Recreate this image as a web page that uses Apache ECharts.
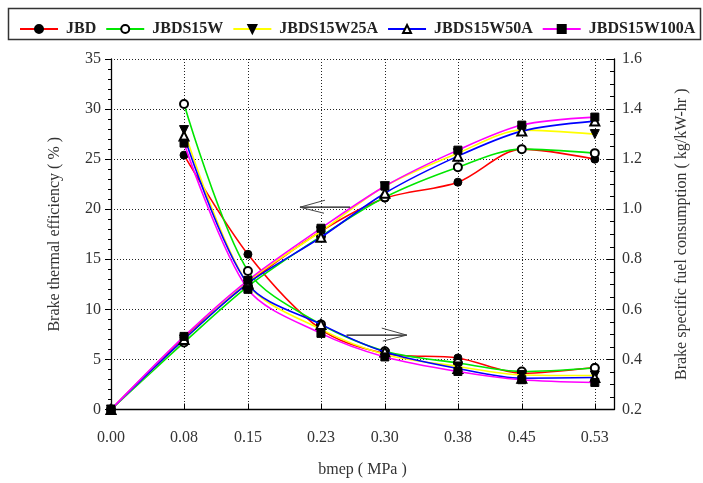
<!DOCTYPE html>
<html>
<head>
<meta charset="utf-8">
<script src="https://cdn.jsdelivr.net/npm/echarts@6/dist/echarts.min.js"></script>
<style>html,body{margin:0;padding:0;background:#fff}#c{width:703px;height:483px}</style>
</head>
<body>
<div id="c"></div>
<script>
// ---- data ----
const xValues = [0, 0.08, 0.15, 0.23, 0.30, 0.38, 0.45, 0.53];
const seriesNames = ['JBD', 'JBDS15W', 'JBDS15W25A', 'JBDS15W50A', 'JBDS15W100A'];
// Brake thermal efficiency (%) - left axis
const bteJBD    = [0, 7.2, 12.6, 17.8, 21.1, 22.7, 26.0, 25.0];
const bteW      = [0, 6.7, 12.3, 17.3, 21.2, 24.2, 26.0, 25.6];
const bteW25A   = [0, 7.0, 12.8, 17.8, 22.3, 25.6, 27.9, 27.5];
const bteW50A   = [0, 7.0, 12.6, 17.2, 21.6, 25.3, 27.8, 28.8];
const bteW100A  = [0, 7.3, 12.9, 18.1, 22.3, 25.9, 28.4, 29.2];
// Brake specific fuel consumption (kg/kW-hr) - right axis
const bsfcJBD   = [null, 1.216, 0.82, 0.52, 0.424, 0.406, 0.345, 0.368];
const bsfcW     = [null, 1.42, 0.753, 0.54, 0.433, 0.386, 0.352, 0.366];
const bsfcW25A  = [null, 1.316, 0.70, 0.52, 0.42, 0.372, 0.338, 0.336];
const bsfcW50A  = [null, 1.292, 0.70, 0.54, 0.43, 0.364, 0.325, 0.328];
const bsfcW100A = [null, 1.264, 0.68, 0.504, 0.41, 0.352, 0.319, 0.308];
// annotation arrows in data coords (left-axis units): [tailX, tipX, y]
const arrowBTE  = [0.262, 0.207, 20.2];
const arrowBSFC = [0.258, 0.324, 7.43];

const bteAll = [bteJBD, bteW, bteW25A, bteW50A, bteW100A];
const bsfcAll = [bsfcJBD, bsfcW, bsfcW25A, bsfcW50A, bsfcW100A];
const colors = ['#ff0000', '#00e600', '#ffff00', '#0000ff', '#ff00ff'];
const symbols = ['circle', 'emptyCircle', 'triangle', 'emptyTriangle', 'rect'];
const rotations = [0, 0, 180, 0, 0];
const sizes = [8, 8, 9, 9, 8];

const font = 'Liberation Serif';
const chart = echarts.init(document.getElementById('c'), null, {renderer: 'canvas'});

function pairs(arr) {
  const out = [];
  arr.forEach((v, i) => { if (v !== null) out.push([xValues[i], v]); });
  return out;
}

const series = [];
[0, 1].forEach(axisIdx => {
  seriesNames.forEach((name, i) => {
    series.push({
      name: name,
      type: 'line',
      yAxisIndex: axisIdx,
      data: pairs(axisIdx === 0 ? bteAll[i] : bsfcAll[i]),
      smooth: 0.3,
      symbol: symbols[i],
      symbolRotate: rotations[i],
      symbolSize: sizes[i],
      showAllSymbol: true,
      lineStyle: {color: colors[i], width: 1.6},
      itemStyle: {color: '#000', borderColor: '#000', borderWidth: 1},
      emphasis: {disabled: true},
      z: 2 + i
    });
  });
});

const axisLabelStyle = {fontFamily: font, fontSize: 16, color: '#333'};
const gridLine = {show: true, lineStyle: {color: '#222', type: [1, 2], width: 1}};

chart.setOption({
  animation: false,
  color: colors,
  legend: {
    data: seriesNames,
    left: 14, top: 16,
    itemWidth: 38, itemHeight: 10, itemGap: 9,
    textStyle: {fontFamily: font, fontSize: 16, fontWeight: 'bold', color: '#222', padding: [0, 0, 0, 3]},
    selectedMode: false
  },
  grid: {left: 111, right: 89, top: 59, bottom: 73.5},
  xAxis: {
    type: 'value', min: 0, max: 0.551,
    name: 'bmep ( MPa )', nameLocation: 'middle', nameGap: 52,
    nameTextStyle: {fontFamily: font, fontSize: 16, color: '#333'},
    axisLine: {show: true, lineStyle: {color: '#000', width: 1.3}},
    axisTick: {show: true, inside: true, length: 6, customValues: xValues, lineStyle: {color: '#000'}},
    axisLabel: {customValues: xValues, formatter: v => v.toFixed(2), margin: 20, ...axisLabelStyle},
    splitLine: gridLine
  },
  yAxis: [{
    type: 'value', min: 0, max: 35, interval: 5, position: 'left',
    name: 'Brake thermal efficiency ( % )', nameLocation: 'middle', nameGap: 48,
    nameTextStyle: {fontFamily: font, fontSize: 16, color: '#333'},
    axisLine: {show: true, lineStyle: {color: '#000', width: 1.3}},
    axisTick: {show: true, inside: false, length: 6, lineStyle: {color: '#000'}},
    minorTick: {show: true, splitNumber: 5, length: 3, lineStyle: {color: '#000'}},
    axisLabel: {margin: 10, ...axisLabelStyle},
    splitLine: gridLine
  }, {
    type: 'value', min: 0.2, max: 1.6, interval: 0.2, position: 'right',
    name: 'Brake specific fuel consumption ( kg/kW-hr )', nameLocation: 'middle', nameGap: 60,
    nameRotate: 90,
    nameTextStyle: {fontFamily: font, fontSize: 16, color: '#333'},
    axisLine: {show: true, lineStyle: {color: '#000', width: 1.3}},
    axisTick: {show: true, inside: true, length: 7, lineStyle: {color: '#000'}},
    minorTick: {show: true, splitNumber: 4, length: 4, lineStyle: {color: '#000'}},
    axisLabel: {margin: 8, formatter: v => v.toFixed(1), ...axisLabelStyle},
    splitLine: {show: false}
  }],
  series: series
});

function arrowGraphic(a, dir) {
  const tail = chart.convertToPixel({xAxisIndex: 0, yAxisIndex: 0}, [a[0], a[2]]);
  const tip = chart.convertToPixel({xAxisIndex: 0, yAxisIndex: 0}, [a[1], a[2]]);
  const d = dir; // +1 tip to the right, -1 tip to the left
  return [{
    type: 'line', shape: {x1: tail[0], y1: tail[1], x2: tip[0], y2: tip[1]},
    style: {stroke: '#111', lineWidth: 1.2}, z: 20
  }, {
    type: 'polyline', shape: {points: [[tip[0] - d * 25, tip[1] - 7], [tip[0], tip[1]], [tip[0] - d * 24, tip[1] + 6]]},
    style: {stroke: '#444', lineWidth: 1, fill: 'none'}, z: 20
  }];
}

chart.setOption({
  graphic: [{
    type: 'rect', shape: {x: 8.5, y: 8.5, width: 692, height: 31},
    style: {fill: 'none', stroke: '#333', lineWidth: 1.5}, z: 0
  }].concat(arrowGraphic(arrowBTE, -1), arrowGraphic(arrowBSFC, 1))
});
</script>
</body>
</html>
